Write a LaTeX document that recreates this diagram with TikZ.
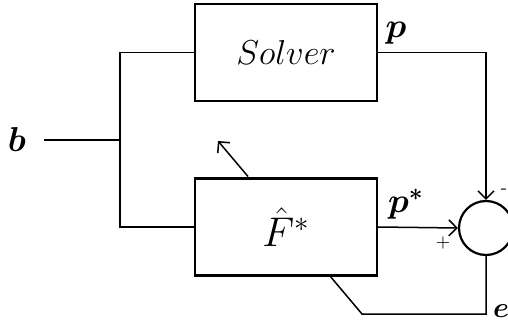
\documentclass[tikz,border=0pt]{standalone}
\usepackage{amsmath, amssymb}
\usepackage{tikz}
\usetikzlibrary{arrows.meta}

\begin{document}
\begin{tikzpicture}[x=0.5pt, y=-0.5pt, >={Straight Barb[length=4pt, width=8pt]}, every node/.style={font=\LARGE},
    block/.style={draw, line width=1.1pt, minimum width=91pt, minimum height=48.5pt, inner sep=0pt},
    sumnode/.style={draw, circle, line width=1.1pt, minimum size=27pt, inner sep=0pt},
    lbl/.style={font=\LARGE, inner sep=0pt},
    sgn/.style={font=\small, inner sep=0pt},
    wire/.style={line width=0.75pt}]
  \useasboundingbox (0,0) rectangle (508,320);
  \node[block] (solver) at (286,52.5) {$Solver$};
  \node[block, font=\huge] (fhat) at (286,227) {$\hat{F}^{*}$};
  \node[sumnode] (sum) at (486,228) {};
  \node[lbl] (b) at (17,140) {$\boldsymbol{b}$};
  \node[lbl] (p) at (396,33) {$\boldsymbol{p}$};
  \node[lbl] (pstar) at (406,204) {$\boldsymbol{p^*}$};
  \node[sgn] (plus) at (443,243) {$+$};
  \node[sgn] (minus) at (504,191) {-};
  \node[lbl, font=\Large] (e) at (501,311) {$\boldsymbol{e}$};
  \coordinate (bin) at (44,140);
  \coordinate (split) at (120,140);
  \coordinate (ecorner) at (486,314);
  \coordinate (ebend) at (362,314);
  \coordinate (fout) at (330,276);
  \coordinate (upfoot) at (248,176.5);
  \coordinate (uptip) at (218,141);
  \draw[wire] (bin) -- (split);
  \draw[wire] (split) |- (solver.west);
  \draw[wire] (split) |- (fhat.west);
  \draw[wire, ->] (solver.east) -| (sum.north);
  \draw[wire, ->] (fhat.east) -- (sum.west);
  \draw[wire] (sum.south) -- (ecorner) -- (ebend) -- (fout);
  \draw[wire, ->] (upfoot) -- (uptip);
\end{tikzpicture}
\end{document}
